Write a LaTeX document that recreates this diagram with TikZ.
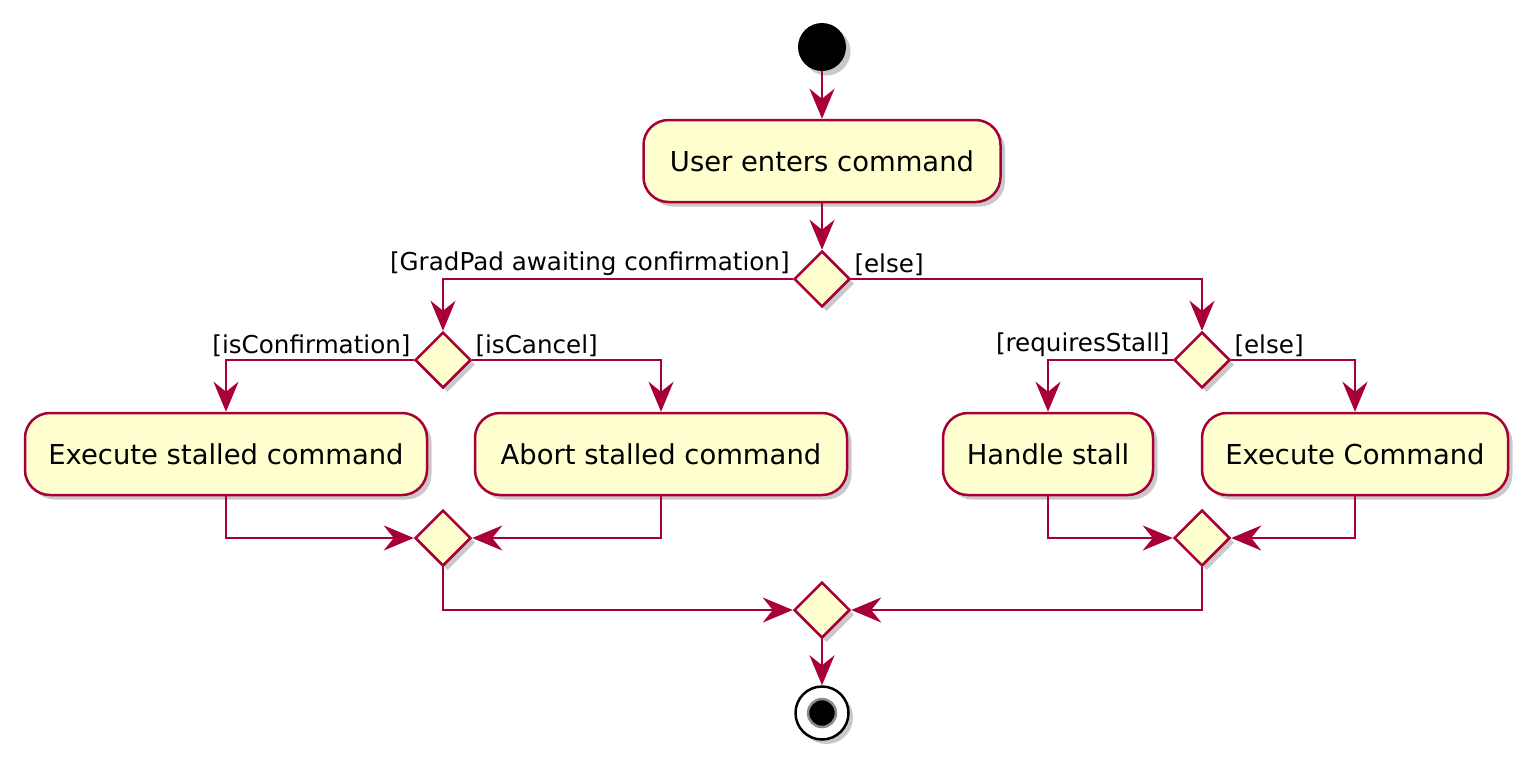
\documentclass[tikz,border=0pt]{standalone}
\usepackage{fontspec}
\setmainfont{DejaVu Sans}
\usetikzlibrary{shapes.geometric,arrows.meta,positioning,shadows}
\definecolor{umlred}{HTML}{A80036}
\definecolor{umlfill}{HTML}{FEFECE}

\tikzset{
  umlshadow/.style={drop shadow={shadow xshift=0.09cm,shadow yshift=-0.09cm,opacity=0.3,fill=black!70}},
  action/.style={rectangle,rounded corners=0.5cm,draw=umlred,fill=umlfill,line width=0.05cm,
    minimum height=1.64cm,font=\fontsize{15.6}{18}\selectfont,umlshadow},
  branch/.style={diamond,draw=umlred,fill=umlfill,line width=0.05cm,minimum width=1.12cm,
    minimum height=1.12cm,inner sep=0pt,umlshadow},
  startdot/.style={circle,fill=black,minimum size=0.96cm,inner sep=0pt,umlshadow},
  stopring/.style={circle,draw=black,fill=white,line width=0.05cm,minimum size=1.06cm,inner sep=0pt,umlshadow},
  stopdot/.style={circle,fill=black,draw=black!45,line width=0.05cm,minimum size=0.56cm,inner sep=0pt},
  guard/.style={font=\fontsize{14}{16}\selectfont,inner sep=0.04cm,text=black},
}

\begin{document}
\begin{tikzpicture}[node distance=2cm,on grid,
  flow/.style={-{Stealth[length=0.6cm,width=0.5cm,inset=0.2cm]},color=umlred,line width=0.05cm},
  hv/.style={to path={-| (\tikztotarget) \tikztonodes}},
  vh/.style={to path={|- (\tikztotarget) \tikztonodes}}]
  \useasboundingbox (0,0) rectangle (30.66,-15.26);
  \node[startdot]                    (start)        at (16.44,-0.94)                     {};
  \node[action,minimum width=7.14cm] (enter)        [below=2.28cm of start]              {User enters command};
  \node[branch]                      (awaiting)     [below=2.36cm of enter]              {};
  \node[branch]                      (confirm)      [below left=1.62cm and 7.58cm of awaiting]  {};
  \node[branch]                      (stall)        [below right=1.62cm and 7.6cm of awaiting]  {};
  \node[action,minimum width=8.04cm] (execstalled)  [below left=1.88cm and 4.34cm of confirm]   {Execute stalled command};
  \node[action,minimum width=7.44cm] (abortstalled) [below right=1.88cm and 4.36cm of confirm]  {Abort stalled command};
  \node[action,minimum width=4.2cm]  (handle)       [below left=1.88cm and 3.08cm of stall]     {Handle stall};
  \node[action,minimum width=6.12cm] (execute)      [below right=1.88cm and 3.06cm of stall]    {Execute Command};
  \node[branch]                      (mergeleft)    [below=3.56cm of confirm]            {};
  \node[branch]                      (mergeright)   [below=3.56cm of stall]              {};
  \node[branch]                      (mergeall)     [below=6.62cm of awaiting]           {};
  \node[stopring]                    (stop)         [below=2.06cm of mergeall]           {};
  \node[stopdot]                     (stopcore)     at (stop)                            {};
  \path[flow] (start) edge (enter)
              (enter) edge (awaiting)
              (awaiting.west) edge [hv] node [guard,pos=0,above left] {[GradPad awaiting confirmation]} (confirm.north)
              (awaiting.east) edge [hv] node [guard,pos=0,above right] {[else]} (stall.north)
              (confirm.west) edge [hv] node [guard,pos=0,above left] {[isConfirmation]} (execstalled.north)
              (confirm.east) edge [hv] node [guard,pos=0,above right] {[isCancel]} (abortstalled.north)
              (stall.west) edge [hv] node [guard,pos=0,above left] {[requiresStall]} (handle.north)
              (stall.east) edge [hv] node [guard,pos=0,above right] {[else]} (execute.north)
              (execstalled) edge [vh] (mergeleft.west)
              (abortstalled) edge [vh] (mergeleft.east)
              (handle) edge [vh] (mergeright.west)
              (execute) edge [vh] (mergeright.east)
              (mergeleft) edge [vh] (mergeall.west)
              (mergeright) edge [vh] (mergeall.east)
              (mergeall) edge (stop);
\end{tikzpicture}
\end{document}
